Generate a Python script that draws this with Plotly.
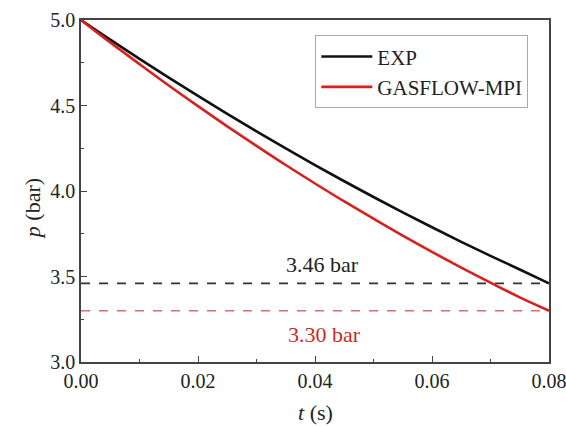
import plotly.graph_objects as go

# time (s)
t = [0.000, 0.005, 0.010, 0.015, 0.020, 0.025, 0.030, 0.035, 0.040,
     0.045, 0.050, 0.055, 0.060, 0.065, 0.070, 0.075, 0.080]
# pressure (bar)
p_exp = [5.000, 4.885, 4.773, 4.663, 4.556, 4.451, 4.349, 4.249, 4.152,
         4.057, 3.965, 3.875, 3.788, 3.703, 3.621, 3.541, 3.460]
p_gasflow = [5.000, 4.869, 4.742, 4.617, 4.496, 4.378, 4.264, 4.152, 4.044,
             3.939, 3.838, 3.739, 3.644, 3.552, 3.464, 3.378, 3.300]

ref_t = [0.0, 0.08]
ref_exp = [3.46, 3.46]
ref_gasflow = [3.30, 3.30]

ann_text = ["3.46 bar", "3.30 bar"]
ann_t = [0.0412, 0.0417]
ann_p = [3.573, 3.162]

x_ticks = [0.00, 0.02, 0.04, 0.06, 0.08]
y_ticks = [3.0, 3.5, 4.0, 4.5, 5.0]

FONT = "Liberation Serif, Times New Roman, serif"
BLACK = "#111111"
RED = "#d8201c"

fig = go.Figure()
fig.add_trace(go.Scatter(x=ref_t, y=ref_exp, mode="lines", showlegend=False,
                         line=dict(color="#333333", width=1.6, dash="dash"),
                         hoverinfo="skip"))
fig.add_trace(go.Scatter(x=ref_t, y=ref_gasflow, mode="lines", showlegend=False,
                         line=dict(color="#e06a66", width=1.4, dash="dash"),
                         hoverinfo="skip"))
fig.add_trace(go.Scatter(x=t, y=p_exp, mode="lines", name="EXP",
                         line=dict(color=BLACK, width=2.6, shape="spline")))
fig.add_trace(go.Scatter(x=t, y=p_gasflow, mode="lines", name="GASFLOW-MPI",
                         line=dict(color=RED, width=2.6, shape="spline")))

for txt, xx, yy, col in zip(ann_text, ann_t, ann_p, ["#222222", "#cc2a26"]):
    fig.add_annotation(x=xx, y=yy, text=txt, showarrow=False,
                       font=dict(family=FONT, size=22, color=col))

fig.add_annotation(xref="paper", yref="paper", x=-0.1047, y=0.447,
                   xanchor="center", yanchor="middle",
                   text="<i>p</i> (bar)", textangle=-90, showarrow=False,
                   font=dict(family=FONT, size=22, color="#222222"))
fig.add_annotation(xref="paper", yref="paper", x=0.502, y=-0.149,
                   xanchor="center", yanchor="middle",
                   text="<i>t</i> (s)", showarrow=False,
                   font=dict(family=FONT, size=22, color="#222222"))

axis_common = dict(
    showgrid=False, zeroline=False, automargin=False,
    showline=True, linecolor="#444444", linewidth=1.6, mirror=True,
    ticks="inside", ticklen=6, tickwidth=1.4, tickcolor="#444444",
    ticklabeloverflow="allow",
    tickfont=dict(family=FONT, size=20, color="#222222"),
)

fig.update_xaxes(range=[0, 0.08], tickvals=x_ticks, tickformat=".2f",
                 minor=dict(dtick=0.01, ticks="inside", ticklen=3, tickwidth=1.2,
                            tickcolor="#444444"),
                 **axis_common)
fig.update_yaxes(range=[3, 5], tickvals=y_ticks, tickformat=".1f",
                 minor=dict(dtick=0.25, ticks="inside", ticklen=3, tickwidth=1.2,
                            tickcolor="#444444"),
                 **axis_common)

fig.update_layout(
    width=566, height=427,
    margin=dict(l=81, r=17, t=20, b=65, autoexpand=False),
    plot_bgcolor="white", paper_bgcolor="white",
    font=dict(family=FONT, color="#222222"),
    legend=dict(x=0.5007, y=0.955, xanchor="left", yanchor="top",
                bgcolor="white", bordercolor="#aaaaaa", borderwidth=1,
                font=dict(family=FONT, size=21, color="#222222"),
                itemwidth=51, tracegroupgap=0),
    showlegend=True,
)

# remove the default page margin so the 566x427 figure fills the window exactly
fig.write_html("out.html",
               config={"displayModeBar": False},
               post_script="document.body.style.margin='0px';"
                           "document.body.style.overflow='hidden';")
